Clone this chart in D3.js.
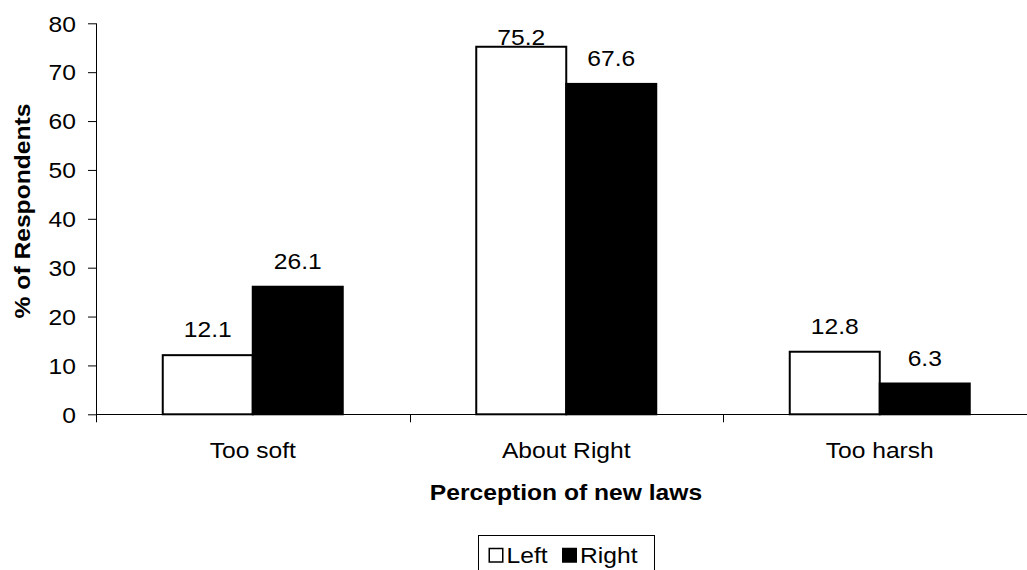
<!DOCTYPE html>
<html>
<head>
<meta charset="utf-8">
<script src="https://cdn.jsdelivr.net/npm/d3@7"></script>
<style>
  body { margin: 0; background: #fff; }
  svg { display: block; font-family: "Liberation Sans", Arial, sans-serif; }
</style>
</head>
<body>
<div id="chart"></div>
<script>
var categories = ["Too soft", "About Right", "Too harsh"];
var seriesNames = ["Left", "Right"];
var leftValues = [12.1, 75.2, 12.8];
var rightValues = [26.1, 67.6, 6.3];
var yTicks = [0, 10, 20, 30, 40, 50, 60, 70, 80];

var width = 1027,
    height = 570,
    fontSize = 22,
    stretch = 1.12;

var data = categories.map(function(c, i) {
	return { cat: c, values: [
		{ name: seriesNames[0], value: leftValues[i] },
		{ name: seriesNames[1], value: rightValues[i] }
	] };
});

var fills = { "Left": "#fff", "Right": "#000" };

var svg = d3.select("#chart").append("svg")
	.attr("width", width)
	.attr("height", height);

/* scales */
var x = d3.scaleBand().domain(categories).range([96, 1036.5]).padding(0);
var xs = d3.scaleBand().domain(seriesNames).range([0, 180]);
var y = d3.scaleLinear().domain([0, 80]).range([414.3, 23.3]);

/* text in the picture is a bit wider than plain Arial */
function widen(sel) {
	sel.each(function() {
		var t = d3.select(this),
		    tx = +t.attr("x") || 0,
		    ty = +t.attr("y") || 0,
		    rot = t.attr("data-rot");
		t.attr("x", 0).attr("y", 0)
		 .attr("transform", "translate(" + tx + "," + ty + ")" + (rot ? " rotate(" + rot + ")" : "") + " scale(" + stretch + ",1)");
	});
}

/* y axis */
var yAxis = svg.append("g")
	.attr("transform", "translate(96,0)")
	.call(d3.axisLeft(y).tickValues(yTicks).tickSize(8).tickSizeOuter(0).tickPadding(12));
yAxis.select(".domain").remove();
yAxis.selectAll("line").attr("stroke", "#000");
yAxis.selectAll("text")
	.attr("font-size", fontSize)
	.attr("font-family", "Liberation Sans, Arial, sans-serif")
	.attr("fill", "#000")
	.attr("dy", "0.35em")
	.call(widen);

/* x axis labels */
var xAxis = svg.append("g")
	.attr("transform", "translate(0," + y(0) + ")")
	.call(d3.axisBottom(x).tickSize(0).tickPadding(28.5));
xAxis.select(".domain").remove();
xAxis.selectAll("text")
	.attr("font-size", fontSize)
	.attr("font-family", "Liberation Sans, Arial, sans-serif")
	.attr("fill", "#000")
	.call(widen);

/* bars */
var groups = svg.append("g").selectAll("g")
	.data(data)
	.enter().append("g")
	.attr("transform", function(d) { return "translate(" + (x(d.cat) + (x.bandwidth() - 180) / 2) + ",0)"; });

groups.selectAll("rect")
	.data(function(d) { return d.values; })
	.enter().append("rect")
	.attr("x", function(d) { return xs(d.name); })
	.attr("y", function(d) { return y(d.value); })
	.attr("width", xs.bandwidth())
	.attr("height", function(d) { return y(0) - y(d.value); })
	.attr("fill", function(d) { return fills[d.name]; })
	.attr("stroke", "#000")
	.attr("stroke-width", 2);

groups.selectAll("text")
	.data(function(d) { return d.values; })
	.enter().append("text")
	.attr("x", function(d) { return xs(d.name) + xs.bandwidth() / 2; })
	.attr("y", function(d) { return Math.max(y(d.value) - 18, y(80) + 22); })
	.attr("text-anchor", "middle")
	.attr("font-size", fontSize)
	.attr("fill", "#000")
	.text(function(d) { return d.value.toFixed(1); })
	.call(widen);

/* axis lines drawn after the bars */
svg.append("line")
	.attr("x1", 96).attr("x2", x.range()[1])
	.attr("y1", Math.round(y(0)) + 0.5).attr("y2", Math.round(y(0)) + 0.5)
	.attr("stroke", "#000");
svg.append("line")
	.attr("x1", 96.5).attr("x2", 96.5)
	.attr("y1", y(80)).attr("y2", y(0) + 8)
	.attr("stroke", "#000");
svg.append("g").selectAll("line")
	.data(categories.slice(1))
	.enter().append("line")
	.attr("x1", function(d) { return Math.round(x(d)) + 0.5; })
	.attr("x2", function(d) { return Math.round(x(d)) + 0.5; })
	.attr("y1", y(0)).attr("y2", y(0) + 8)
	.attr("stroke", "#000");

/* axis titles */
svg.append("text")
	.attr("x", 566).attr("y", 500)
	.attr("text-anchor", "middle")
	.attr("font-size", fontSize)
	.attr("font-weight", "bold")
	.text("Perception of new laws")
	.call(widen);

svg.append("text")
	.attr("x", 30).attr("y", 211)
	.attr("data-rot", -90)
	.attr("text-anchor", "middle")
	.attr("font-size", fontSize)
	.attr("font-weight", "bold")
	.text("% of Respondents")
	.call(widen);

/* legend */
var legend = svg.append("g").attr("transform", "translate(478,535)");
legend.append("rect")
	.attr("x", 0.5).attr("y", 0.5)
	.attr("width", 176).attr("height", 40)
	.attr("fill", "#fff")
	.attr("stroke", "#000");

var legendOffsets = [10.5, 84];
var items = legend.selectAll("g.item")
	.data(seriesNames)
	.enter().append("g")
	.attr("class", "item")
	.attr("transform", function(d, i) { return "translate(" + legendOffsets[i] + ",0)"; });

items.append("rect")
	.attr("x", 0.75).attr("y", 13.5)
	.attr("width", 13.5).attr("height", 13.5)
	.attr("fill", function(d) { return fills[d]; })
	.attr("stroke", "#000")
	.attr("stroke-width", 1.5);

items.append("text")
	.attr("x", 18).attr("y", 27.5)
	.attr("font-size", fontSize)
	.attr("fill", "#000")
	.text(function(d) { return d; })
	.call(widen);
</script>
</body>
</html>
